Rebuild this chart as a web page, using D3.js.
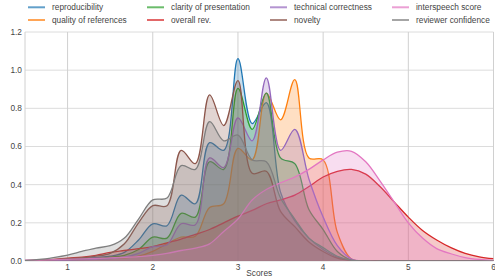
<!DOCTYPE html>
<html>
<head>
<meta charset="utf-8">
<script src="https://cdn.jsdelivr.net/npm/d3@7"></script>
<style>
  html, body { margin: 0; padding: 0; background: #fff; }
  svg text { font-family: "Liberation Sans", Arial, sans-serif; fill: #444; }
</style>
</head>
<body>
<svg id="chart" width="495" height="278"></svg>
<script>

// score positions the densities were read at
const scoreGrid = [0.5, 0.667, 0.833, 1.0, 1.167, 1.333, 1.5, 1.667, 1.833, 2.0, 2.167, 2.333, 2.5, 2.667, 2.833,
  3.0, 3.167, 3.333, 3.5, 3.667, 3.833, 4.0, 4.167, 4.333, 4.5, 4.667, 4.833, 5.0, 5.167, 5.333, 5.5, 5.667, 5.833, 6.0]

const reproducibility = [0, 0.002, 0.004, 0.008, 0.012, 0.018, 0.025, 0.045, 0.11, 0.195, 0.185, 0.345, 0.3, 0.62, 0.58,
  1.06, 0.72, 0.83, 0.36, 0.21, 0.12, 0.06, 0.02, 0.003, 0, 0, 0, 0, 0, 0, 0, 0, 0, 0]
const qualityOfReferences = [0, 0.001, 0.002, 0.004, 0.006, 0.01, 0.013, 0.016, 0.025, 0.05, 0.09, 0.125, 0.13, 0.28, 0.3,
  0.59, 0.53, 0.88, 0.74, 0.95, 0.54, 0.53, 0.15, 0.01, 0, 0, 0, 0, 0, 0, 0, 0, 0, 0]
const clarity = [0, 0.002, 0.003, 0.005, 0.008, 0.012, 0.02, 0.03, 0.06, 0.125, 0.12, 0.25, 0.23, 0.52, 0.48,
  0.905, 0.69, 0.88, 0.54, 0.51, 0.27, 0.165, 0.05, 0.005, 0, 0, 0, 0, 0, 0, 0, 0, 0, 0]
const overallRev = [0.002, 0.004, 0.008, 0.015, 0.02, 0.03, 0.045, 0.055, 0.065, 0.075, 0.095, 0.115, 0.14, 0.165, 0.2,
  0.235, 0.265, 0.3, 0.32, 0.345, 0.39, 0.44, 0.47, 0.48, 0.455, 0.39, 0.31, 0.23, 0.16, 0.11, 0.07, 0.04, 0.022, 0.012]
const technical = [0, 0.001, 0.002, 0.004, 0.006, 0.009, 0.013, 0.02, 0.04, 0.075, 0.085, 0.195, 0.19, 0.54, 0.49,
  0.75, 0.63, 0.96, 0.58, 0.69, 0.43, 0.23, 0.08, 0.01, 0, 0, 0, 0, 0, 0, 0, 0, 0, 0]
const novelty = [0, 0.003, 0.007, 0.012, 0.016, 0.025, 0.04, 0.09, 0.2, 0.29, 0.29, 0.58, 0.51, 0.87, 0.71,
  0.945, 0.46, 0.47, 0.26, 0.18, 0.1, 0.05, 0.015, 0.003, 0, 0, 0, 0, 0, 0, 0, 0, 0, 0]
const interspeech = [0.004, 0.005, 0.007, 0.009, 0.011, 0.013, 0.016, 0.019, 0.023, 0.03, 0.04, 0.055, 0.068, 0.09, 0.155,
  0.22, 0.32, 0.375, 0.41, 0.44, 0.48, 0.53, 0.57, 0.575, 0.52, 0.42, 0.31, 0.2, 0.12, 0.065, 0.038, 0.018, 0.008, 0.003]
const confidence = [0.003, 0.008, 0.018, 0.031, 0.05, 0.068, 0.08, 0.12, 0.22, 0.32, 0.33, 0.5, 0.48, 0.73, 0.63,
  0.66, 0.53, 0.52, 0.33, 0.22, 0.12, 0.07, 0.025, 0.004, 0, 0, 0, 0, 0, 0, 0, 0, 0, 0]

const seriesNames = ["reproducibility", "quality of references", "clarity of presentation", "overall rev.",
  "technical correctness", "novelty", "interspeech score", "reviewer confidence"]
const seriesValues = [reproducibility, qualityOfReferences, clarity, overallRev, technical, novelty, interspeech, confidence]
const colors = ["#1f77b4", "#ff7f0e", "#2ca02c", "#d62728", "#9467bd", "#8c564b", "#e377c2", "#7f7f7f"]

const xTicks = [1, 2, 3, 4, 5, 6]
const yTicks = [0, 0.2, 0.4, 0.6, 0.8, 1.0, 1.2]

const margin = { top: 32, right: 1.5, bottom: 17, left: 25 }
const W = 495, H = 278

const svg = d3.select("#chart")

const x = d3.scaleLinear().domain([0.5, 6]).range([margin.left, W - margin.right])
const y = d3.scaleLinear().domain([0, 1.2]).range([H - margin.bottom, margin.top])

svg.append("clipPath")
  .attr("id", "plot-clip")
  .append("rect")
  .attr("x", x(0.5)).attr("y", y(1.2))
  .attr("width", x(6) - x(0.5)).attr("height", y(0) - y(1.2))

// grid
svg.append("g")
  .selectAll("line.h")
  .data(yTicks)
  .enter()
  .append("line")
  .attr("x1", x(0.5)).attr("x2", x(6))
  .attr("y1", d => y(d)).attr("y2", d => y(d))
  .attr("stroke", "#dcdcdc").attr("stroke-width", 1)

svg.append("g")
  .selectAll("line.v")
  .data(xTicks)
  .enter()
  .append("line")
  .attr("x1", d => x(d)).attr("x2", d => x(d))
  .attr("y1", y(0)).attr("y2", y(1.2))
  .attr("stroke", "#d0d0d0").attr("stroke-width", 1)

svg.append("line")
  .attr("x1", x(0.5)).attr("x2", x(0.5))
  .attr("y1", y(0)).attr("y2", y(1.2))
  .attr("stroke", "#d0d0d0")

// tick labels
svg.append("g")
  .selectAll("text")
  .data(yTicks)
  .enter()
  .append("text")
  .attr("x", 22)
  .attr("y", d => y(d))
  .attr("dy", "0.35em")
  .attr("text-anchor", "end")
  .attr("font-size", "8.3px")
  .text(d => d3.format(".1f")(d))

svg.append("g")
  .selectAll("text")
  .data(xTicks)
  .enter()
  .append("text")
  .attr("x", d => x(d))
  .attr("y", 267)
  .attr("dy", "0.35em")
  .attr("text-anchor", "middle")
  .attr("font-size", "8.3px")
  .text(d => d)

svg.append("text")
  .attr("x", (x(0.5) + x(6)) / 2)
  .attr("y", 273.5)
  .attr("dy", "0.35em")
  .attr("text-anchor", "middle")
  .attr("font-size", "8.3px")
  .text("Scores")

// densities
const curve = d3.curveCatmullRom.alpha(0.5)

const area = d3.area()
  .x((d, i) => x(scoreGrid[i]))
  .y0(y(0))
  .y1(d => y(d))
  .curve(curve)

const line = d3.line()
  .x((d, i) => x(scoreGrid[i]))
  .y(d => y(d))
  .curve(curve)

const plot = svg.append("g").attr("clip-path", "url(#plot-clip)")
seriesValues.forEach((vals, k) => {
  plot.append("path")
    .attr("d", area(vals))
    .attr("fill", colors[k])
    .attr("fill-opacity", 0.25)
  plot.append("path")
    .attr("d", line(vals))
    .attr("fill", "none")
    .attr("stroke", colors[k])
    .attr("stroke-width", 1.3)
})

// legend, 4 columns filled column-wise
const legX = [28, 147, 270, 392]
const legY = [7.3, 20]
const legend = svg.append("g")
seriesNames.forEach((name, k) => {
  const cx = legX[Math.floor(k / 2)]
  const cy = legY[k % 2]
  legend.append("line")
    .attr("x1", cx).attr("x2", cx + 17)
    .attr("y1", cy).attr("y2", cy)
    .attr("stroke", colors[k])
    .attr("stroke-opacity", 0.7)
    .attr("stroke-width", 2)
  legend.append("text")
    .attr("x", cx + 24)
    .attr("y", cy)
    .attr("dy", "0.35em")
    .attr("font-size", "8.3px")
    .text(name)
})

</script>
</body>
</html>
